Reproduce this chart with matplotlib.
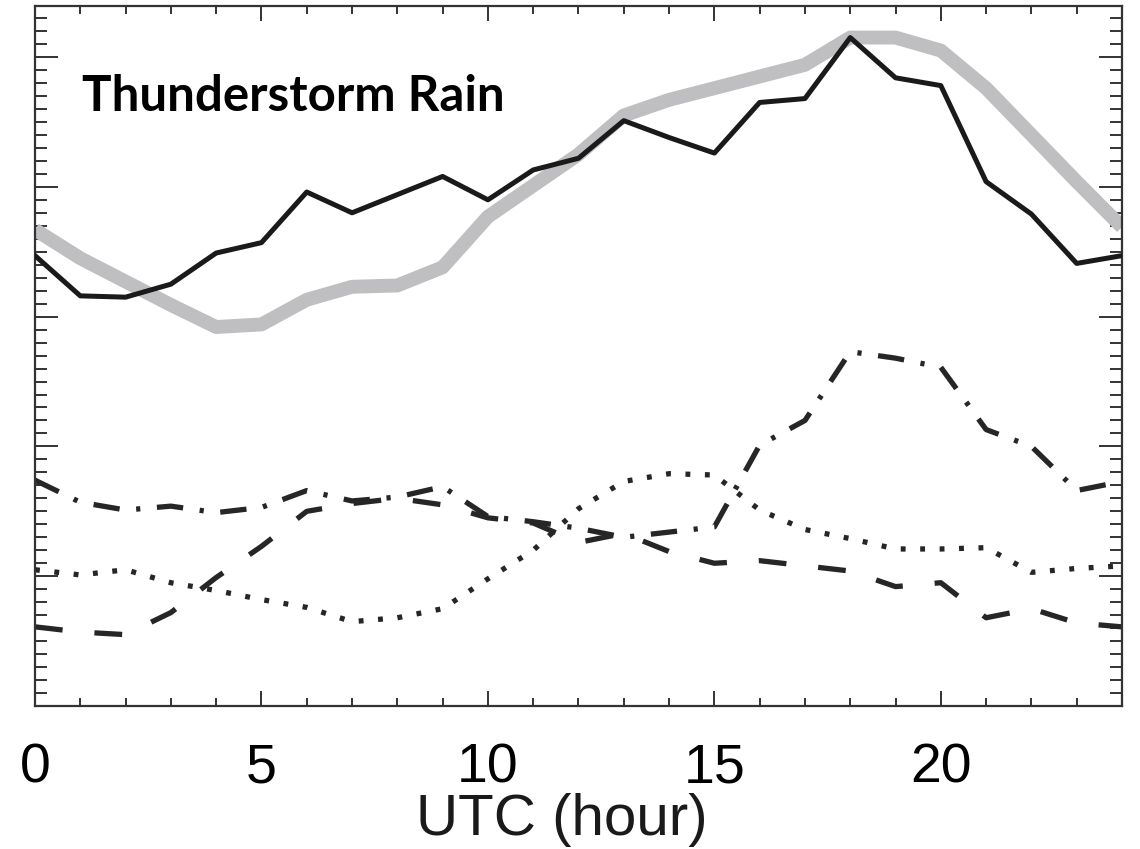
import numpy as np
import matplotlib.pyplot as plt
from matplotlib.ticker import MultipleLocator

# hourly diurnal cycle, 0-24 UTC
hours = np.arange(0, 25)

obs_total = [3.47, 3.16, 3.15, 3.25, 3.49, 3.57, 3.96, 3.80, 3.94, 4.08, 3.90, 4.13, 4.22,
             4.51, 4.38, 4.26, 4.65, 4.68, 5.15, 4.84, 4.78, 4.04, 3.79, 3.41, 3.47]
fit_total = [3.67, 3.45, 3.27, 3.09, 2.92, 2.94, 3.13, 3.23, 3.24, 3.38, 3.77, 4.01, 4.25,
             4.55, 4.67, 4.76, 4.85, 4.94, 5.15, 5.15, 5.05, 4.76, 4.40, 4.04, 3.69]
dashdot_series = [1.74, 1.57, 1.51, 1.54, 1.49, 1.53, 1.66, 1.58, 1.61, 1.69, 1.46, 1.42, 1.37,
                  1.30, 1.34, 1.38, 2.01, 2.20, 2.73, 2.68, 2.61, 2.13, 2.00, 1.66, 1.73]
dashed_series = [0.61, 0.57, 0.55, 0.72, 0.99, 1.23, 1.50, 1.56, 1.60, 1.55, 1.45, 1.41, 1.26,
                 1.33, 1.19, 1.10, 1.12, 1.08, 1.04, 0.92, 0.95, 0.68, 0.75, 0.64, 0.61]
dotted_series = [1.05, 1.01, 1.05, 0.95, 0.89, 0.82, 0.76, 0.65, 0.68, 0.75, 0.98, 1.20, 1.52,
                 1.73, 1.79, 1.78, 1.51, 1.36, 1.29, 1.21, 1.21, 1.22, 1.03, 1.06, 1.08]

xtick_vals = [0, 5, 10, 15, 20]

plt.rcParams['font.family'] = ['Liberation Sans', 'DejaVu Sans']
plt.rcParams['lines.scale_dashes'] = False

fig = plt.figure(figsize=(11.4, 8.49), dpi=100)
ax = fig.add_axes([0.0307, 0.1684, 0.9535, 0.8245])

ink = '#262626'
ax.plot(hours, fit_total, color='#bfbfc1', linewidth=10, solid_capstyle='butt', zorder=2)
ax.plot(hours, obs_total, color='#1a1a1a', linewidth=3.6, zorder=3)
ax.plot(hours, dashdot_series, color=ink, linewidth=3.8, dashes=(19, 12, 3, 12))
ax.plot(hours, dashed_series, color=ink, linewidth=3.8, dashes=(20, 23))
ax.plot(hours, dotted_series, color=ink, linewidth=3.8, dashes=(3.5, 10.5))

ax.set_xlim(0, 24)
ax.set_ylim(0, 5.393)

ax.set_xticks(xtick_vals)
ax.xaxis.set_minor_locator(MultipleLocator(1))
ax.yaxis.set_major_locator(MultipleLocator(1))
ax.yaxis.set_minor_locator(MultipleLocator(0.1))

ax.tick_params(axis='both', which='both', direction='in', top=True, right=True,
               color='#333333', width=1.4)
ax.tick_params(axis='x', which='major', length=10.8, labelsize=40, pad=26)
ax.tick_params(axis='x', which='minor', length=5.8)
ax.tick_params(axis='y', which='major', length=16.5, labelleft=False)
ax.tick_params(axis='y', which='minor', length=8.6)

for side in ax.spines.values():
    side.set_linewidth(1.6)
    side.set_color('#333333')

ax.set_xlabel('UTC (hour)', fontsize=42, color='#1a1a1a')
ax.xaxis.set_label_coords(0.485, -0.124)

ax.text(0.043, 0.85, 'Thunderstorm Rain', transform=ax.transAxes,
        fontsize=35.5, fontweight='bold', family=['Lato', 'DejaVu Sans'],
        ha='left', va='baseline')

fig.savefig('out.png', dpi=100)
